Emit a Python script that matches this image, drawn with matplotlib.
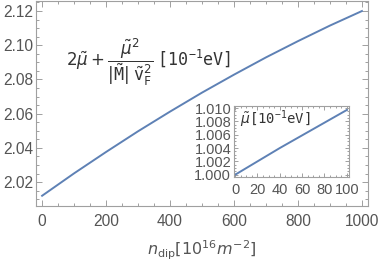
import matplotlib
matplotlib.use("Agg")
import matplotlib.pyplot as plt
from matplotlib.ticker import MultipleLocator, FormatStrFormatter
import numpy as np

plt.rcParams['font.family'] = ['Liberation Sans', 'DejaVu Sans']
plt.rcParams['mathtext.fontset'] = 'dejavusans'

# Main curve: n_dip vs 2mu + mu^2/(|M| v_F^2)
n_dip = [0, 100, 200, 300, 400, 500, 600, 700, 800, 900, 1000]
energy = [2.0120, 2.0251, 2.0376, 2.0497, 2.0612, 2.0723, 2.0828, 2.0929, 2.1024, 2.1115, 2.1200]

# Inset curve: n_dip vs mu
n_inset = [0, 20, 40, 60, 80, 100]
mu_inset = [1.0000, 1.0020, 1.0040, 1.0059, 1.0078, 1.0097]

line_color = '#5e81b5'
frame_color = '#a0a0a0'
label_color = '#555555'

fig = plt.figure(figsize=(3.82, 2.62), dpi=100)
ax = fig.add_axes([0.0935, 0.2137, 0.8707, 0.784])
ax.plot(n_dip, energy, color=line_color, lw=1.4)
ax.set_xlim(-20, 1020)
ax.set_ylim(2.006, 2.1261)
ax.xaxis.set_major_locator(MultipleLocator(200))
ax.xaxis.set_minor_locator(MultipleLocator(50))
ax.yaxis.set_major_locator(MultipleLocator(0.02))
ax.yaxis.set_minor_locator(MultipleLocator(0.005))
ax.yaxis.set_major_formatter(FormatStrFormatter('%.2f'))


def style(a, size):
    for s in a.spines.values():
        s.set_color(frame_color)
        s.set_linewidth(0.8)
    a.tick_params(which='both', direction='in', top=True, right=True,
                  color=frame_color, labelcolor=label_color, labelsize=size,
                  width=0.7)
    a.tick_params(which='major', length=4)
    a.tick_params(which='minor', length=2.2)


style(ax, 11.2)
ax.tick_params(axis='y', which='major', pad=2)
ax.tick_params(axis='x', which='major', pad=6)
ax.set_xlabel(r'$n_{\mathrm{dip}}[10^{16}m^{-2}]$', color=label_color,
              fontsize=11.5, labelpad=7)

ax.text(0.09, 0.70,
        r'$2\tilde{\mu}+\dfrac{\tilde{\mu}^2}{|\tilde{\mathtt{M}}|\;\tilde{\mathtt{v}}_{\mathtt{F}}^2}\;\mathtt{[10}^{\mathtt{-1}}\mathtt{eV]}$',
        transform=ax.transAxes, fontsize=12, color='#333333', va='center', ha='left')

axi = fig.add_axes([0.6126, 0.3244, 0.301, 0.271])
axi.plot(n_inset, mu_inset, color=line_color, lw=1.4)
axi.set_xlim(-1, 102)
axi.set_ylim(0.99966, 1.0103)
axi.xaxis.set_major_locator(MultipleLocator(20))
axi.xaxis.set_minor_locator(MultipleLocator(5))
axi.yaxis.set_major_locator(MultipleLocator(0.002))
axi.yaxis.set_minor_locator(MultipleLocator(0.0005))
axi.yaxis.set_major_formatter(FormatStrFormatter('%.3f'))
style(axi, 10.5)
axi.tick_params(which='major', length=3)
axi.tick_params(axis='y', which='major', pad=2)
axi.tick_params(axis='x', which='major', pad=4)
axi.tick_params(which='minor', length=1.6)
axi.text(0.05, 0.82, r'$\tilde{\mu}\mathtt{[10}^{\mathtt{-1}}\mathtt{eV]}$', transform=axi.transAxes,
         fontsize=10, color='#333333', va='center', ha='left')

fig.savefig('out.png', dpi=100)
